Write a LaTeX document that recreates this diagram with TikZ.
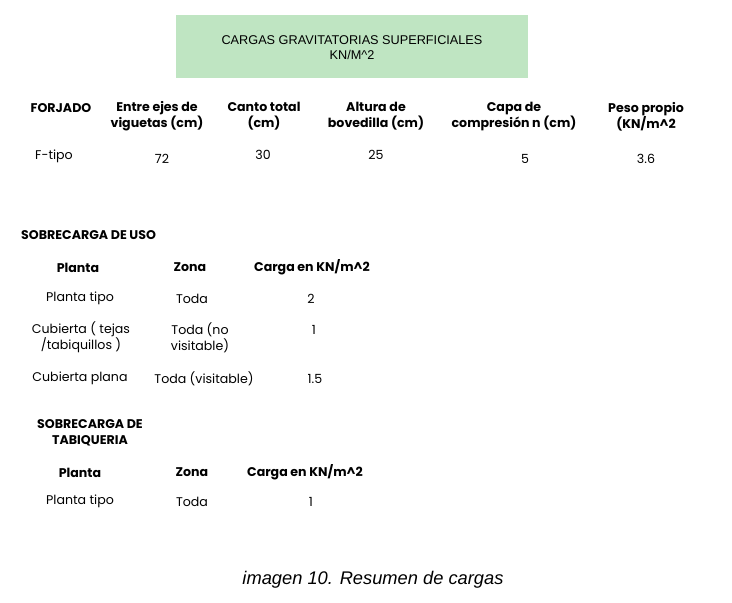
\documentclass[tikz,border=0pt]{standalone}
\usepackage{fontspec}
\setmainfont{Poppins}
\newfontfamily\arialfont{Liberation Sans}
\usetikzlibrary{positioning}
\definecolor{titlegreen}{RGB}{191,229,194}

\begin{document}
\begin{tikzpicture}[x=1pt,y=-1pt,
 hdr/.style={font=\fontsize{12.6}{16}\selectfont\bfseries,align=center,inner sep=0pt,yshift=-1.5pt},
 cell/.style={font=\fontsize{12.6}{16}\selectfont,align=center,inner sep=0pt,yshift=-1.5pt}]
 \useasboundingbox (0,0) rectangle (732,603);
 \node[fill=titlegreen,minimum width=352pt,minimum height=63pt,inner sep=0pt] (titulo) at (352,46.5) {};
 \node[align=center,inner sep=0pt,font=\arialfont\fontsize{12.7}{15}\selectfont] (titulotxt)
  at ([yshift=-1pt]titulo.center) {CARGAS GRAVITATORIAS SUPERFICIALES\\KN/M\textasciicircum2};
 % forjado
 \node[hdr] (forjado) at (61,107) {FORJADO};
 \node[hdr] (ejes) at (157,115) {Entre ejes de\\viguetas (cm)};
 \node[hdr] (canto) at (264,115) {Canto total\\(cm)};
 \node[hdr] (altura) at (376,115) {Altura de\\bovedilla (cm)};
 \node[hdr] (capa) at (514,115) {Capa de\\compresión n (cm)};
 \node[hdr] (peso) at (646,115) {Peso propio\\(KN/m\textasciicircum2};
 \node[cell] (ftipo) at (54,155) {F-tipo};
 \node[cell] (v72) at (162,157) {72};
 \node[cell] (v30) at (263,153) {30};
 \node[cell] (v25) at (376,153) {25};
 \node[cell] (v5) at (525,157) {5};
 \node[cell] (v36) at (646,157) {3.6};
 % sobrecarga de uso
 \node[hdr,anchor=west] (uso) at (21,234) {SOBRECARGA DE USO};
 \node[hdr] (plantaA) at (78,266) {Planta};
 \node[hdr] (zonaA) at (190,266) {Zona};
 \node[hdr] (cargaA) at (312,266) {Carga en KN/m\textasciicircum2};
 \node[cell] (tipoA) at (80,297) {Planta tipo};
 \node[cell] (todaA) at (192,297) {Toda};
 \node[cell] (dosA) at (311,297) {2};
 \node[cell] (tejas) at (81,336) {Cubierta ( tejas\\/tabiquillos )};
 \node[cell] (novis) at (200,336) {Toda (no\\visitable)};
 \node[cell] (unoA) at (314,328) {1};
 \node[cell] (plana) at (80,377) {Cubierta plana};
 \node[cell] (vis) at (204,377) {Toda (visitable)};
 \node[cell] (unocincoA) at (315,377) {1.5};
 % sobrecarga de tabiqueria
 \node[hdr] (tabiq) at (90,431.5) {SOBRECARGA DE\\TABIQUERIA};
 \node[hdr] (plantaB) at (80,471) {Planta};
 \node[hdr] (zonaB) at (192,471) {Zona};
 \node[hdr] (cargaB) at (305,471) {Carga en KN/m\textasciicircum2};
 \node[cell] (tipoB) at (80,500) {Planta tipo};
 \node[cell] (todaB) at (192,500) {Toda};
 \node[cell] (unoB) at (311,500) {1};
 % pie
 \node[font=\arialfont\itshape\fontsize{18.3}{20}\selectfont,inner sep=0pt] (pie) at (373,580)
  {imagen 10. Resumen de cargas};
\end{tikzpicture}
\end{document}
